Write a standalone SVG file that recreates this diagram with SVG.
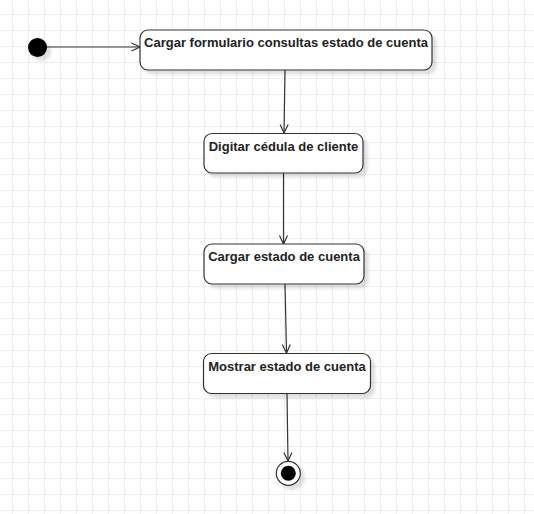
<svg xmlns="http://www.w3.org/2000/svg" width="534" height="514" viewBox="0 0 534 514">
<style>
.node rect{fill:#ffffff;stroke:#333333;stroke-width:1.2;filter:url(#sh)}
.node text{font-family:"Liberation Sans",Arial,sans-serif;font-weight:bold;font-size:13px;fill:#222222;text-anchor:middle}
.conn line{stroke:#333333;stroke-width:1.2;fill:none;marker-end:url(#arr)}
</style>
<defs>
<pattern id="grid" x="12" y="14" width="16" height="16" patternUnits="userSpaceOnUse">
<path d="M0.5 0V16M0 0.5H16" stroke="#eeeeee" stroke-width="1" fill="none"/>
</pattern>
<filter id="sh" x="-20%" y="-20%" width="150%" height="160%">
<feDropShadow dx="4" dy="4" stdDeviation="1.5" flood-color="#000000" flood-opacity="0.12"/>
</filter>
<marker id="arr" markerWidth="12" markerHeight="12" refX="10" refY="5" orient="auto" markerUnits="userSpaceOnUse">
<path d="M1.5 1L10 5L1.5 9" fill="none" stroke="#333333" stroke-width="1.2"/>
</marker>
</defs>
<rect width="534" height="514" fill="#ffffff"/>
<rect width="534" height="514" fill="url(#grid)"/>
<g id="connectors" class="conn">
<line x1="47" y1="47" x2="140" y2="47"/>
<line x1="285" y1="70" x2="284" y2="133"/>
<line x1="283.5" y1="173" x2="283.5" y2="244"/>
<line x1="285" y1="284" x2="286.5" y2="353"/>
<line x1="287" y1="393.5" x2="288" y2="461"/>
</g>
<g id="start">
<circle cx="37.5" cy="47.5" r="9.5" fill="#000000" filter="url(#sh)"/>
</g>
<g id="n1" class="node">
<rect x="140" y="30" width="292" height="40" rx="8" ry="8"/>
<text x="286" y="47">Cargar formulario consultas estado de cuenta</text>
</g>
<g id="n2" class="node">
<rect x="204" y="133.5" width="159" height="39.5" rx="8" ry="8"/>
<text x="283.5" y="150.5">Digitar cédula de cliente</text>
</g>
<g id="n3" class="node">
<rect x="204" y="244" width="160" height="40" rx="8" ry="8"/>
<text x="284" y="261">Cargar estado de cuenta</text>
</g>
<g id="n4" class="node">
<rect x="203.5" y="353.5" width="167" height="40" rx="8" ry="8"/>
<text x="287" y="370.5">Mostrar estado de cuenta</text>
</g>
<g id="end">
<circle cx="288.3" cy="473.3" r="12" fill="#ffffff" stroke="#333333" stroke-width="1.2" filter="url(#sh)"/>
<circle cx="288.3" cy="473.3" r="7.5" fill="#000000"/>
</g>
</svg>
